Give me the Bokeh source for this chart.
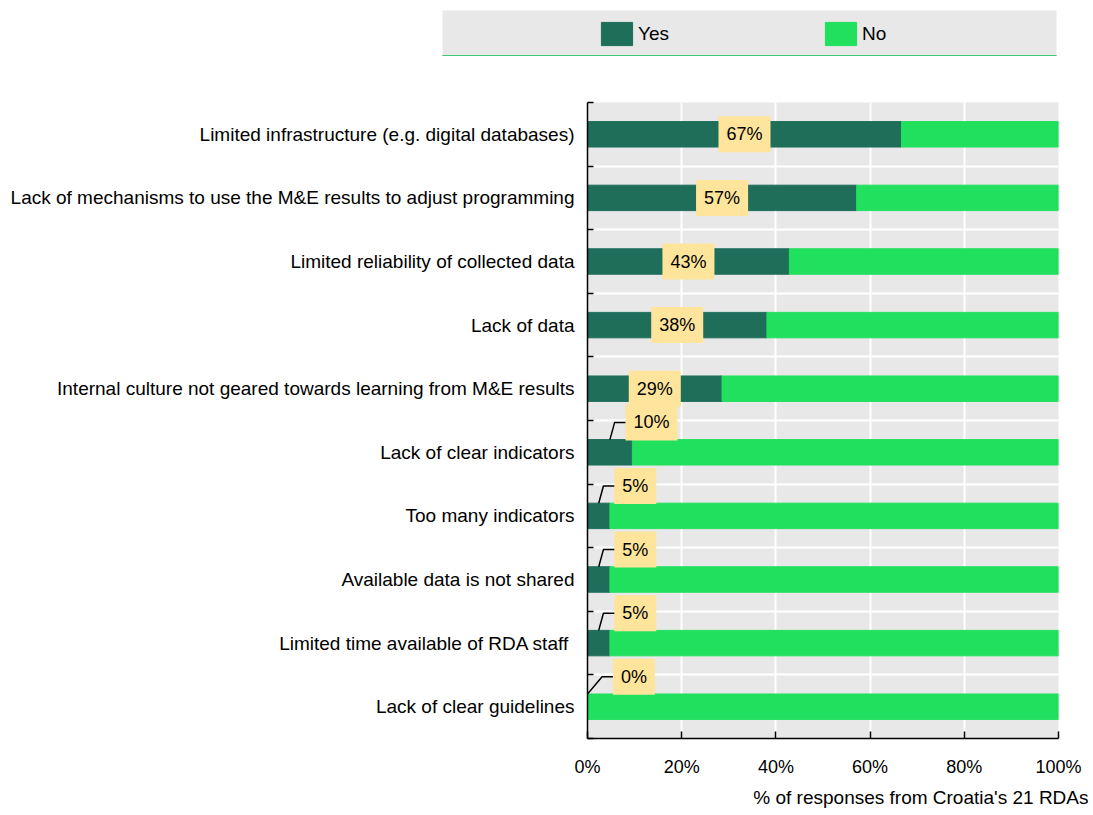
from bokeh.plotting import figure
from bokeh.models import Range1d, FixedTicker, ColumnDataSource, Legend, LegendItem, Title
from bokeh.layouts import column
from bokeh.core.properties import value
from bokeh.embed import file_html
from bokeh.resources import INLINE

# ---------------- data ----------------
categories = [
    "Limited infrastructure (e.g. digital databases)",
    "Lack of mechanisms to use the M&E results to adjust programming",
    "Limited reliability of collected data",
    "Lack of data",
    "Internal culture not geared towards learning from M&E results",
    "Lack of clear indicators",
    "Too many indicators",
    "Available data is not shared",
    "Limited time available of RDA staff ",
    "Lack of clear guidelines",
]
yes_counts = [14, 12, 9, 8, 6, 2, 1, 1, 1, 0]
n_rdas = 21
series_names = ["Yes", "No"]
x_ticks = [0, 20, 40, 60, 80, 100]
x_tick_labels = ["0%", "20%", "40%", "60%", "80%", "100%"]
axis_title = "% of responses from Croatia's 21 RDAs"

# ---------------- style ----------------
FONT = "'Liberation Sans Narrow', 'Arial Narrow', 'Liberation Sans', Arial, sans-serif"
DARK = "#1e6e5a"
LIGHT = "#21e05e"
YELLOW = "#fee59b"
GREY = "#e8e8e8"
W = 1090

n = len(categories)
ys = [n - 1 - i for i in range(n)]
yes_pct = [c / n_rdas * 100 for c in yes_counts]
no_pct = [100 - v for v in yes_pct]
labels = [f"{round(v)}%" for v in yes_pct]
boundaries = [k - 0.5 for k in range(n + 1)]

# ---------------- main chart ----------------
p = figure(width=W, height=751, x_range=Range1d(0, 100), y_range=Range1d(-0.5, n - 0.5),
           output_backend="svg", toolbar_location=None,
           min_border_left=587, min_border_right=32, min_border_top=40, min_border_bottom=75)
p.frame_align = False
p.background_fill_color = GREY
p.outline_line_color = None
p.border_fill_color = "white"

src = ColumnDataSource(dict(y=ys, yes=yes_pct, no=no_pct, full=[100] * n))
p.hbar(y="y", left=0, right="yes", height=0.4, color=DARK, source=src)
p.hbar(y="y", left="yes", right="full", height=0.4, color=LIGHT, source=src)

# axes
p.xaxis.ticker = FixedTicker(ticks=x_ticks)
p.xaxis.major_label_overrides = {t: lab for t, lab in zip(x_ticks, x_tick_labels)}
p.xaxis.major_tick_in = 7
p.xaxis.major_tick_out = 0
p.xaxis.minor_tick_line_color = None
p.xaxis.axis_line_color = "black"
p.xaxis.axis_line_width = 1.5
p.xaxis.major_tick_line_width = 1.5
p.xaxis.major_label_text_font = FONT
p.xaxis.major_label_text_font_size = "18px"
p.xaxis.major_label_text_color = "black"
p.xaxis.major_label_standoff = 18

p.yaxis.ticker = FixedTicker(ticks=ys, minor_ticks=boundaries)
p.yaxis.major_label_overrides = {y: c for y, c in zip(ys, categories)}
p.yaxis.major_tick_line_color = None
p.yaxis.major_tick_in = 0
p.yaxis.major_tick_out = 0
p.yaxis.minor_tick_in = 6
p.yaxis.minor_tick_out = 0
p.yaxis.minor_tick_line_color = "black"
p.yaxis.minor_tick_line_width = 1.5
p.yaxis.axis_line_color = "black"
p.yaxis.axis_line_width = 1.5
p.yaxis.major_label_text_font = FONT
p.yaxis.major_label_text_font_size = "19px"
p.yaxis.major_label_text_color = "black"
p.yaxis.major_label_standoff = 13

p.xgrid.ticker = FixedTicker(ticks=x_ticks)
p.xgrid.grid_line_color = "white"
p.xgrid.grid_line_width = 2
p.ygrid.ticker = FixedTicker(ticks=ys, minor_ticks=boundaries)
p.ygrid.grid_line_color = None
p.ygrid.minor_grid_line_color = "white"
p.ygrid.minor_grid_line_width = 2

# value labels
in_x, in_y, in_t = [], [], []
out_x, out_y, out_t = [], [], []
lx, ly = [], []
for y, v, lab in zip(ys, yes_pct, labels):
    if v >= 15:
        in_x.append(v / 2)
        in_y.append(y)
        in_t.append(lab)
    else:
        start = v / 2
        knee = max(start + 1.0, 3.1)
        ty = y + 0.47
        lx.append([start, knee, knee + 2.5])
        ly.append([y + 0.2, ty, ty])
        out_x.append(knee + 2.3)
        out_y.append(ty)
        out_t.append(lab)

p.multi_line(xs=lx, ys=ly, line_color="black", line_width=1.5)

common = dict(text_font=value(FONT), text_font_size="18px", text_color="black",
              text_baseline="middle", background_fill_color=YELLOW, padding=8)
p.text(x=in_x, y=in_y, text=in_t, text_align="center", **common)
p.text(x=out_x, y=out_y, text=out_t, text_align="left", **common)

t = Title(text=axis_title, align="right", offset=-30, text_font=FONT,
          text_font_size="19px", text_font_style="normal", text_color="black")
p.add_layout(t, "below")

# ---------------- legend strip ----------------
lf = figure(width=W, height=62, output_backend="svg", toolbar_location=None,
            x_axis_location=None, y_axis_location=None,
            x_range=Range1d(0, 1), y_range=Range1d(0, 1),
            min_border_left=442, min_border_right=34, min_border_top=10, min_border_bottom=7)
lf.frame_align = False
lf.background_fill_color = GREY
lf.outline_line_color = None
lf.border_fill_color = "white"
lf.grid.visible = False
# swatch renderers (their single bar lies outside the visible range)
r_yes = lf.hbar(y=[-5], left=[0], right=[1], height=0.4, color=DARK)
r_no = lf.hbar(y=[-5], left=[0], right=[1], height=0.4, color=LIGHT)
leg = Legend(items=[LegendItem(label=series_names[0], renderers=[r_yes]),
                    LegendItem(label=series_names[1], renderers=[r_no])],
             orientation="horizontal", location=(155, 7),
             glyph_width=39, glyph_height=29, label_standoff=2, label_width=40,
             spacing=143, padding=0, margin=0,
             background_fill_alpha=0, border_line_color=None,
             label_text_font=FONT, label_text_font_size="19px", label_text_color="black")
lf.add_layout(leg)

layout = column(lf, p, spacing=0)
open("out.html", "w").write(file_html(layout, INLINE))
